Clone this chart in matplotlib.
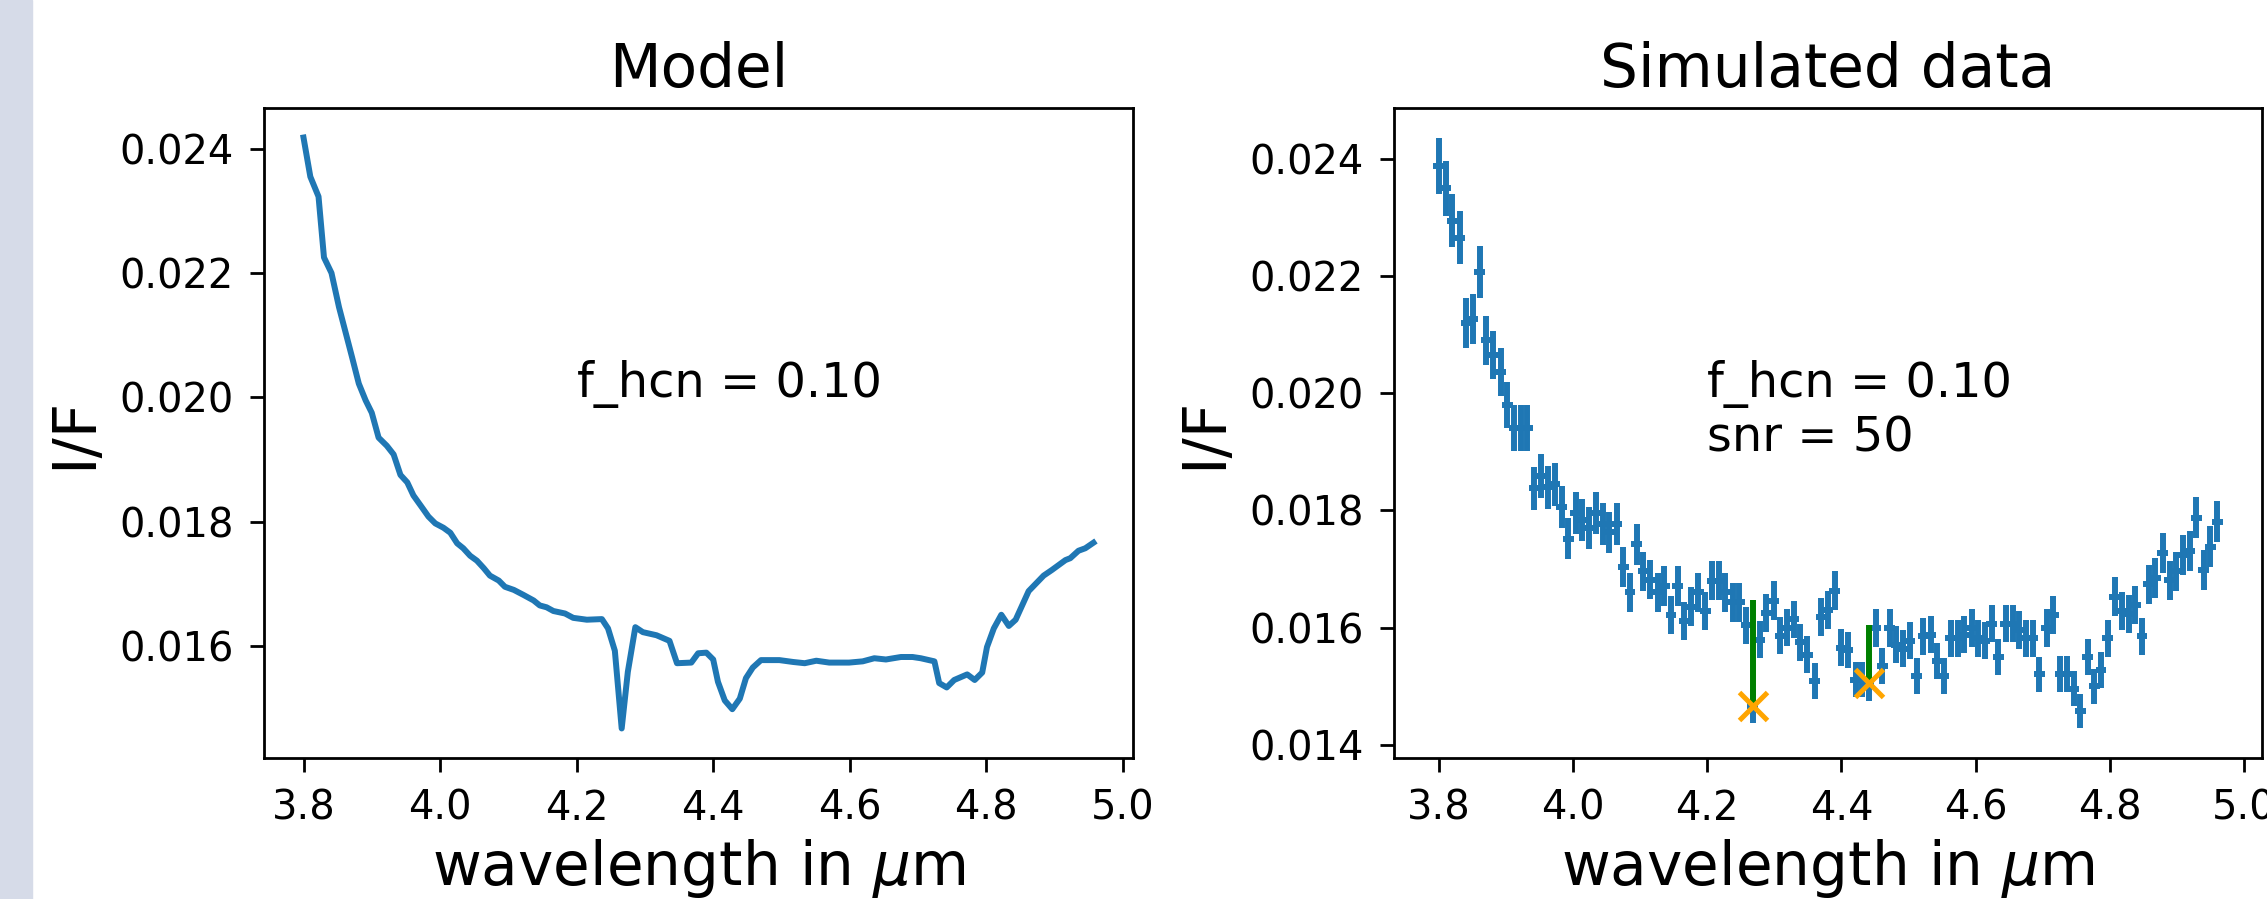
import matplotlib
matplotlib.use('Agg')
import matplotlib.pyplot as plt
import matplotlib.patches as mpatches
import numpy as np

# model spectrum (left panel)
model_wl = [3.800, 3.810, 3.822, 3.830, 3.841, 3.852, 3.871, 3.881, 3.891, 3.900,
            3.910, 3.922, 3.932, 3.942, 3.952, 3.961, 3.974, 3.983, 3.993, 4.005,
            4.015, 4.025, 4.034, 4.044, 4.054, 4.064, 4.073, 4.086, 4.095, 4.108,
            4.122, 4.137, 4.146, 4.156, 4.166, 4.183, 4.195, 4.215, 4.237, 4.246,
            4.256, 4.266, 4.275, 4.286, 4.297, 4.317, 4.336, 4.347, 4.368, 4.378,
            4.390, 4.400, 4.407, 4.417, 4.428, 4.439, 4.448, 4.458, 4.470, 4.497,
            4.517, 4.534, 4.551, 4.570, 4.599, 4.619, 4.636, 4.653, 4.675, 4.692,
            4.704, 4.724, 4.731, 4.742, 4.753, 4.772, 4.783, 4.794, 4.801, 4.811,
            4.822, 4.833, 4.843, 4.862, 4.884, 4.896, 4.916, 4.923, 4.935, 4.945,
            4.957]
model_flux = [0.02418, 0.02355, 0.02323, 0.02225, 0.02200, 0.02145, 0.02065, 0.02022, 0.01995, 0.01975,
              0.01935, 0.01922, 0.01908, 0.01875, 0.01863, 0.01842, 0.01822, 0.01808, 0.01797, 0.01790,
              0.01782, 0.01765, 0.01757, 0.01745, 0.01737, 0.01725, 0.01713, 0.01705, 0.01695, 0.01690,
              0.01682, 0.01673, 0.01665, 0.01662, 0.01656, 0.01652, 0.01645, 0.01642, 0.01643, 0.01628,
              0.01592, 0.01467, 0.01558, 0.01630, 0.01622, 0.01617, 0.01608, 0.01572, 0.01573, 0.01588,
              0.01589, 0.01578, 0.01542, 0.01512, 0.01498, 0.01515, 0.01548, 0.01565, 0.01577, 0.01577,
              0.01574, 0.01572, 0.01576, 0.01573, 0.01573, 0.01575, 0.01580, 0.01578, 0.01582, 0.01582,
              0.01580, 0.01575, 0.01540, 0.01533, 0.01545, 0.01554, 0.01545, 0.01557, 0.01598, 0.01628,
              0.01650, 0.01632, 0.01642, 0.01688, 0.01713, 0.01722, 0.01738, 0.01741, 0.01753, 0.01757,
              0.01766]

# simulated data (right panel)
data_wl = [3.800, 3.810, 3.820, 3.831, 3.841, 3.851, 3.861, 3.871, 3.881, 3.892,
           3.902, 3.912, 3.922, 3.932, 3.942, 3.953, 3.963, 3.973, 3.983, 3.993,
           4.004, 4.014, 4.024, 4.034, 4.044, 4.054, 4.065, 4.075, 4.085, 4.095,
           4.105, 4.115, 4.126, 4.136, 4.146, 4.156, 4.166, 4.176, 4.187, 4.197,
           4.207, 4.217, 4.227, 4.238, 4.248, 4.258, 4.268, 4.278, 4.288, 4.299,
           4.309, 4.319, 4.329, 4.339, 4.349, 4.360, 4.370, 4.380, 4.390, 4.400,
           4.410, 4.421, 4.431, 4.441, 4.451, 4.461, 4.472, 4.482, 4.492, 4.502,
           4.512, 4.522, 4.533, 4.543, 4.553, 4.563, 4.573, 4.583, 4.594, 4.604,
           4.614, 4.624, 4.634, 4.645, 4.655, 4.665, 4.675, 4.685, 4.695, 4.706,
           4.716, 4.726, 4.736, 4.746, 4.756, 4.767, 4.777, 4.787, 4.797, 4.807,
           4.818, 4.828, 4.838, 4.848, 4.858, 4.868, 4.879, 4.889, 4.899, 4.909,
           4.919, 4.929, 4.940, 4.950, 4.960]
data_flux = [0.02389, 0.02350, 0.02295, 0.02266, 0.02120, 0.02127, 0.02207, 0.02091, 0.02065, 0.02037,
             0.01980, 0.01941, 0.01941, 0.01941, 0.01838, 0.01859, 0.01840, 0.01845, 0.01806, 0.01752,
             0.01795, 0.01784, 0.01770, 0.01795, 0.01777, 0.01763, 0.01777, 0.01703, 0.01660, 0.01742,
             0.01696, 0.01682, 0.01660, 0.01671, 0.01621, 0.01671, 0.01611, 0.01636, 0.01660, 0.01628,
             0.01680, 0.01680, 0.01660, 0.01643, 0.01643, 0.01604, 0.01466, 0.01579, 0.01625, 0.01646,
             0.01586, 0.01600, 0.01614, 0.01575, 0.01554, 0.01509, 0.01618, 0.01630, 0.01663, 0.01566,
             0.01562, 0.01511, 0.01511, 0.01505, 0.01599, 0.01535, 0.01599, 0.01571, 0.01564, 0.01578,
             0.01517, 0.01585, 0.01588, 0.01543, 0.01517, 0.01582, 0.01582, 0.01588, 0.01599, 0.01582,
             0.01578, 0.01607, 0.01550, 0.01607, 0.01607, 0.01596, 0.01582, 0.01582, 0.01520, 0.01599,
             0.01621, 0.01521, 0.01521, 0.01496, 0.01457, 0.01550, 0.01500, 0.01528, 0.01582, 0.01653,
             0.01628, 0.01624, 0.01639, 0.01585, 0.01674, 0.01685, 0.01727, 0.01681, 0.01696, 0.01724,
             0.01731, 0.01788, 0.01699, 0.01738, 0.01781]
snr = 50
f_hcn = 0.10
wl_err = 0.008

# detected band minima and continuum level above them
band_idx = [46, 63]
band_top = [0.01648, 0.01604]

W, H = 2267, 899
fig = plt.figure(figsize=(W / 100, H / 100), dpi=100)

# light strip on the left edge of the original screenshot
fig.patches.append(mpatches.Rectangle((0, 0), 31.5 / W, 1, transform=fig.transFigure,
                                      color='#d6dbe8', zorder=0))

ax1 = fig.add_axes([264 / W, 1 - 758 / H, 869 / W, 650 / H])
ax2 = fig.add_axes([1394 / W, 1 - 758 / H, 868 / W, 650 / H])

ax1.plot(model_wl, model_flux, lw=4.3, color='C0')
ax1.text(4.2, 0.020, 'f_hcn = %.2f' % f_hcn, fontsize=34.5)
ax1.set_title('Model', fontsize=43, pad=15)

flux = np.array(data_flux)
ax2.errorbar(data_wl, flux, yerr=flux / snr, xerr=wl_err, fmt='none',
             elinewidth=4.3, ecolor='C0')
bx = [data_wl[i] for i in band_idx]
by = [data_flux[i] for i in band_idx]
ax2.vlines(bx, by, band_top, color='green', lw=4.3, zorder=3)
ax2.plot(bx, by, 'x', color='orange', ms=20, mew=3.6, zorder=4)
ax2.text(4.2, 0.019, 'f_hcn = %.2f\nsnr = %d' % (f_hcn, snr), fontsize=34.5)
ax2.set_title('Simulated data', fontsize=43, pad=15)

for ax in (ax1, ax2):
    ax.set_xlabel('wavelength in $\\mu$m', fontsize=43, labelpad=6)
    ax.set_ylabel('I/F', fontsize=43, labelpad=11)
    ax.tick_params(labelsize=28.8, length=10, width=2, pad=12)
    for s in ax.spines.values():
        s.set_linewidth(2)

fig.savefig('out.png', dpi=100)
